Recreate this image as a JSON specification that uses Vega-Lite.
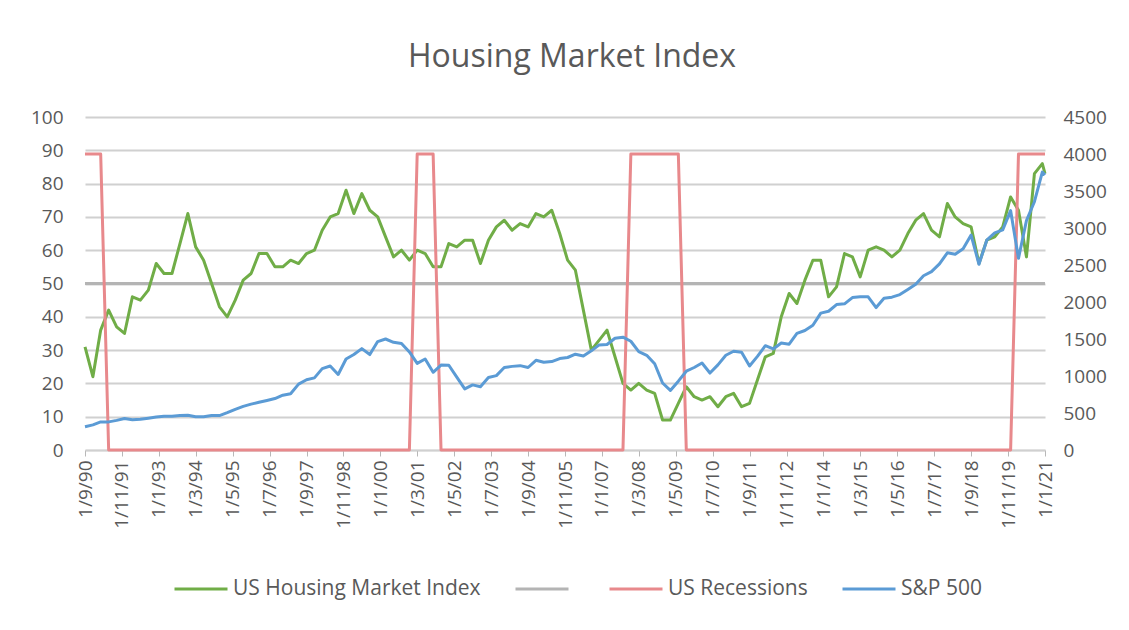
{
  "$schema": "https://vega.github.io/schema/vega-lite/v6.json",
  "width": 960,
  "height": 333,
  "autosize": {"type": "none"},
  "padding": {"left": 85, "top": 117, "right": 84, "bottom": 180},
  "background": "white",
  "config": {
    "view": {"stroke": null},
    "font": "Open Sans",
    "axis": {"labelOverlap": false, "labelFont": "Open Sans", "labelColor": "#595959", "labelFontSize": 19, "title": null},
    "axisLeft": {"grid": true, "gridColor": "#d0d0d0", "gridWidth": 1.8, "gridOpacity": 1}
  },
  "title": {"text": "Housing Market Index", "fontSize": 32, "font": "Open Sans", "fontWeight": "normal", "color": "#595959", "anchor": "middle", "frame": "group", "baseline": "alphabetic", "offset": 9, "dx": 7},
  "data": {"values": [
      {"date":"1990-09-01T00:00","hmi":31,"sp":315,"rec":4000},
      {"date":"1990-12-01T00:00","hmi":22,"sp":340,"rec":4000},
      {"date":"1991-03-01T00:00","hmi":36,"sp":380,"rec":4000},
      {"date":"1991-06-01T00:00","hmi":42,"sp":380,"rec":0},
      {"date":"1991-09-01T00:00","hmi":37,"sp":400,"rec":0},
      {"date":"1991-12-01T00:00","hmi":35,"sp":425,"rec":0},
      {"date":"1992-03-01T00:00","hmi":46,"sp":410,"rec":0},
      {"date":"1992-06-01T00:00","hmi":45,"sp":415,"rec":0},
      {"date":"1992-09-01T00:00","hmi":48,"sp":430,"rec":0},
      {"date":"1992-12-01T00:00","hmi":56,"sp":445,"rec":0},
      {"date":"1993-03-01T00:00","hmi":53,"sp":455,"rec":0},
      {"date":"1993-06-01T00:00","hmi":53,"sp":455,"rec":0},
      {"date":"1993-09-01T00:00","hmi":62,"sp":465,"rec":0},
      {"date":"1993-12-01T00:00","hmi":71,"sp":470,"rec":0},
      {"date":"1994-03-01T00:00","hmi":61,"sp":450,"rec":0},
      {"date":"1994-06-01T00:00","hmi":57,"sp":450,"rec":0},
      {"date":"1994-09-01T00:00","hmi":50,"sp":465,"rec":0},
      {"date":"1994-12-01T00:00","hmi":43,"sp":465,"rec":0},
      {"date":"1995-03-01T00:00","hmi":40,"sp":505,"rec":0},
      {"date":"1995-06-01T00:00","hmi":45,"sp":550,"rec":0},
      {"date":"1995-09-01T00:00","hmi":51,"sp":590,"rec":0},
      {"date":"1995-12-01T00:00","hmi":53,"sp":620,"rec":0},
      {"date":"1996-03-01T00:00","hmi":59,"sp":645,"rec":0},
      {"date":"1996-06-01T00:00","hmi":59,"sp":670,"rec":0},
      {"date":"1996-09-01T00:00","hmi":55,"sp":695,"rec":0},
      {"date":"1996-12-01T00:00","hmi":55,"sp":740,"rec":0},
      {"date":"1997-03-01T00:00","hmi":57,"sp":760,"rec":0},
      {"date":"1997-06-01T00:00","hmi":56,"sp":890,"rec":0},
      {"date":"1997-09-01T00:00","hmi":59,"sp":950,"rec":0},
      {"date":"1997-12-01T00:00","hmi":60,"sp":975,"rec":0},
      {"date":"1998-03-01T00:00","hmi":66,"sp":1100,"rec":0},
      {"date":"1998-06-01T00:00","hmi":70,"sp":1135,"rec":0},
      {"date":"1998-09-01T00:00","hmi":71,"sp":1020,"rec":0},
      {"date":"1998-12-01T00:00","hmi":78,"sp":1230,"rec":0},
      {"date":"1999-03-01T00:00","hmi":71,"sp":1290,"rec":0},
      {"date":"1999-06-01T00:00","hmi":77,"sp":1370,"rec":0},
      {"date":"1999-09-01T00:00","hmi":72,"sp":1290,"rec":0},
      {"date":"1999-12-01T00:00","hmi":70,"sp":1465,"rec":0},
      {"date":"2000-03-01T00:00","hmi":64,"sp":1500,"rec":0},
      {"date":"2000-06-01T00:00","hmi":58,"sp":1455,"rec":0},
      {"date":"2000-09-01T00:00","hmi":60,"sp":1440,"rec":0},
      {"date":"2000-12-01T00:00","hmi":57,"sp":1325,"rec":0},
      {"date":"2001-03-01T00:00","hmi":60,"sp":1170,"rec":4000},
      {"date":"2001-06-01T00:00","hmi":59,"sp":1230,"rec":4000},
      {"date":"2001-09-01T00:00","hmi":55,"sp":1050,"rec":4000},
      {"date":"2001-12-01T00:00","hmi":55,"sp":1148,"rec":0},
      {"date":"2002-03-01T00:00","hmi":62,"sp":1145,"rec":0},
      {"date":"2002-06-01T00:00","hmi":61,"sp":985,"rec":0},
      {"date":"2002-09-01T00:00","hmi":63,"sp":825,"rec":0},
      {"date":"2002-12-01T00:00","hmi":63,"sp":880,"rec":0},
      {"date":"2003-03-01T00:00","hmi":56,"sp":855,"rec":0},
      {"date":"2003-06-01T00:00","hmi":63,"sp":980,"rec":0},
      {"date":"2003-09-01T00:00","hmi":67,"sp":1005,"rec":0},
      {"date":"2003-12-01T00:00","hmi":69,"sp":1115,"rec":0},
      {"date":"2004-03-01T00:00","hmi":66,"sp":1130,"rec":0},
      {"date":"2004-06-01T00:00","hmi":68,"sp":1140,"rec":0},
      {"date":"2004-09-01T00:00","hmi":67,"sp":1115,"rec":0},
      {"date":"2004-12-01T00:00","hmi":71,"sp":1212,"rec":0},
      {"date":"2005-03-01T00:00","hmi":70,"sp":1185,"rec":0},
      {"date":"2005-06-01T00:00","hmi":72,"sp":1195,"rec":0},
      {"date":"2005-09-01T00:00","hmi":65,"sp":1235,"rec":0},
      {"date":"2005-12-01T00:00","hmi":57,"sp":1250,"rec":0},
      {"date":"2006-03-01T00:00","hmi":54,"sp":1295,"rec":0},
      {"date":"2006-06-01T00:00","hmi":42,"sp":1270,"rec":0},
      {"date":"2006-09-01T00:00","hmi":30,"sp":1340,"rec":0},
      {"date":"2006-12-01T00:00","hmi":33,"sp":1420,"rec":0},
      {"date":"2007-03-01T00:00","hmi":36,"sp":1425,"rec":0},
      {"date":"2007-06-01T00:00","hmi":28,"sp":1510,"rec":0},
      {"date":"2007-09-01T00:00","hmi":20,"sp":1525,"rec":0},
      {"date":"2007-12-01T00:00","hmi":18,"sp":1470,"rec":4000},
      {"date":"2008-03-01T00:00","hmi":20,"sp":1330,"rec":4000},
      {"date":"2008-06-01T00:00","hmi":18,"sp":1280,"rec":4000},
      {"date":"2008-09-01T00:00","hmi":17,"sp":1165,"rec":4000},
      {"date":"2008-12-01T00:00","hmi":9,"sp":905,"rec":4000},
      {"date":"2009-03-01T00:00","hmi":9,"sp":805,"rec":4000},
      {"date":"2009-06-01T00:00","hmi":14,"sp":930,"rec":4000},
      {"date":"2009-09-01T00:00","hmi":19,"sp":1065,"rec":0},
      {"date":"2009-12-01T00:00","hmi":16,"sp":1115,"rec":0},
      {"date":"2010-03-01T00:00","hmi":15,"sp":1175,"rec":0},
      {"date":"2010-06-01T00:00","hmi":16,"sp":1040,"rec":0},
      {"date":"2010-09-01T00:00","hmi":13,"sp":1150,"rec":0},
      {"date":"2010-12-01T00:00","hmi":16,"sp":1280,"rec":0},
      {"date":"2011-03-01T00:00","hmi":17,"sp":1335,"rec":0},
      {"date":"2011-06-01T00:00","hmi":13,"sp":1320,"rec":0},
      {"date":"2011-09-01T00:00","hmi":14,"sp":1135,"rec":0},
      {"date":"2011-12-01T00:00","hmi":21,"sp":1265,"rec":0},
      {"date":"2012-03-01T00:00","hmi":28,"sp":1410,"rec":0},
      {"date":"2012-06-01T00:00","hmi":29,"sp":1365,"rec":0},
      {"date":"2012-09-01T00:00","hmi":40,"sp":1445,"rec":0},
      {"date":"2012-12-01T00:00","hmi":47,"sp":1430,"rec":0},
      {"date":"2013-03-01T00:00","hmi":44,"sp":1575,"rec":0},
      {"date":"2013-06-01T00:00","hmi":51,"sp":1615,"rec":0},
      {"date":"2013-09-01T00:00","hmi":57,"sp":1685,"rec":0},
      {"date":"2013-12-01T00:00","hmi":57,"sp":1850,"rec":0},
      {"date":"2014-03-01T00:00","hmi":46,"sp":1875,"rec":0},
      {"date":"2014-06-01T00:00","hmi":49,"sp":1965,"rec":0},
      {"date":"2014-09-01T00:00","hmi":59,"sp":1975,"rec":0},
      {"date":"2014-12-01T00:00","hmi":58,"sp":2060,"rec":0},
      {"date":"2015-03-01T00:00","hmi":52,"sp":2070,"rec":0},
      {"date":"2015-06-01T00:00","hmi":60,"sp":2070,"rec":0},
      {"date":"2015-09-01T00:00","hmi":61,"sp":1925,"rec":0},
      {"date":"2015-12-01T00:00","hmi":60,"sp":2050,"rec":0},
      {"date":"2016-03-01T00:00","hmi":58,"sp":2065,"rec":0},
      {"date":"2016-06-01T00:00","hmi":60,"sp":2100,"rec":0},
      {"date":"2016-09-01T00:00","hmi":65,"sp":2170,"rec":0},
      {"date":"2016-12-01T00:00","hmi":69,"sp":2240,"rec":0},
      {"date":"2017-03-01T00:00","hmi":71,"sp":2355,"rec":0},
      {"date":"2017-06-01T00:00","hmi":66,"sp":2410,"rec":0},
      {"date":"2017-09-01T00:00","hmi":64,"sp":2515,"rec":0},
      {"date":"2017-12-01T00:00","hmi":74,"sp":2665,"rec":0},
      {"date":"2018-03-01T00:00","hmi":70,"sp":2645,"rec":0},
      {"date":"2018-06-01T00:00","hmi":68,"sp":2720,"rec":0},
      {"date":"2018-09-01T00:00","hmi":67,"sp":2905,"rec":0},
      {"date":"2018-12-01T00:00","hmi":56,"sp":2510,"rec":0},
      {"date":"2019-03-01T00:00","hmi":63,"sp":2835,"rec":0},
      {"date":"2019-06-01T00:00","hmi":64,"sp":2935,"rec":0},
      {"date":"2019-09-01T00:00","hmi":67,"sp":2975,"rec":0},
      {"date":"2019-12-01T00:00","hmi":76,"sp":3235,"rec":0},
      {"date":"2020-03-01T00:00","hmi":72,"sp":2590,"rec":4000},
      {"date":"2020-06-01T00:00","hmi":58,"sp":3100,"rec":4000},
      {"date":"2020-09-01T00:00","hmi":83,"sp":3355,"rec":4000},
      {"date":"2020-12-01T00:00","hmi":86,"sp":3755,"rec":4000},
      {"date":"2021-01-01T00:00","hmi":83,"sp":3715,"rec":4000}
  ]},
  "encoding": {
    "x": {"field": "date", "type": "temporal",
      "scale": {"domain": [{"year": 1990, "month": 9, "date": 1}, {"year": 2021, "month": 1, "date": 1}]},
      "axis": {"title": null, "format": "%-d/%-m/%y", "labelAngle": -90, "labelAlign": "right", "labelBaseline": "middle", "labelFontSize": 19, "labelFont": "Open Sans", "labelColor": "#595959", "labelPadding": 4, "tickSize": 6, "tickColor": "#b8b8b8", "domainColor": "#d0d0d0", "domainWidth": 1.6, "grid": false, "labelOverlap": false, "labelFlush": false,
        "values": [
          {"year":1990,"month":9,"date":1},{"year":1991,"month":11,"date":1},{"year":1993,"month":1,"date":1},
          {"year":1994,"month":3,"date":1},{"year":1995,"month":5,"date":1},{"year":1996,"month":7,"date":1},
          {"year":1997,"month":9,"date":1},{"year":1998,"month":11,"date":1},{"year":2000,"month":1,"date":1},
          {"year":2001,"month":3,"date":1},{"year":2002,"month":5,"date":1},{"year":2003,"month":7,"date":1},
          {"year":2004,"month":9,"date":1},{"year":2005,"month":11,"date":1},{"year":2007,"month":1,"date":1},
          {"year":2008,"month":3,"date":1},{"year":2009,"month":5,"date":1},{"year":2010,"month":7,"date":1},
          {"year":2011,"month":9,"date":1},{"year":2012,"month":11,"date":1},{"year":2014,"month":1,"date":1},
          {"year":2015,"month":3,"date":1},{"year":2016,"month":5,"date":1},{"year":2017,"month":7,"date":1},
          {"year":2018,"month":9,"date":1},{"year":2019,"month":11,"date":1},{"year":2021,"month":1,"date":1}
        ]}}
  },
  "layer": [
    {
      "mark": {"type": "line", "strokeWidth": 3},
      "encoding": {
        "y": {"datum": 50, "type": "quantitative", "scale": {"domain": [0, 100]},
          "axis": {"title": null, "orient": "left", "values": [0,10,20,30,40,50,60,70,80,90,100], "domain": false, "ticks": false, "labelPadding": 22, "labelOverlap": false, "grid": true, "gridColor": "#d0d0d0", "gridWidth": 1.8, "gridOpacity": 1}},
        "color": {"datum": "ref", "type": "nominal",
          "scale": {"domain": ["hmi", "ref", "rec", "sp"], "range": ["#70ad47", "#b4b4b4", "#e8898c", "#5b9bd5"]},
          "legend": {"orient": "none", "legendX": 88, "legendY": 444, "direction": "horizontal", "title": null,
            "labelExpr": "datum.value == 'hmi' ? 'US Housing Market Index' : datum.value == 'rec' ? 'US Recessions' : datum.value == 'sp' ? 'S&P 500' : ''",
            "symbolType": "stroke", "symbolSize": 2809, "symbolStrokeWidth": 3, "labelFontSize": 21, "labelFont": "Open Sans", "labelColor": "#595959", "labelOffset": 4, "columnPadding": 28, "padding": 0, "labelLimit": 400}}
      }
    },
    {
      "mark": {"type": "line", "strokeWidth": 3, "strokeJoin": "round"},
      "encoding": {
        "y": {"field": "hmi", "type": "quantitative", "scale": {"domain": [0, 100]}, "axis": null},
        "color": {"datum": "hmi", "type": "nominal"}
      }
    },
    {
      "mark": {"type": "line", "strokeWidth": 3, "strokeJoin": "round"},
      "encoding": {
        "y": {"field": "rec", "type": "quantitative", "scale": {"domain": [0, 4500]},
          "axis": {"title": null, "orient": "right", "values": [0,500,1000,1500,2000,2500,3000,3500,4000,4500], "format": "d", "domain": false, "ticks": false, "grid": false, "labelPadding": 18, "labelOverlap": false}},
        "color": {"datum": "rec", "type": "nominal"}
      }
    },
    {
      "mark": {"type": "line", "strokeWidth": 3, "strokeJoin": "round"},
      "encoding": {
        "y": {"field": "sp", "type": "quantitative", "scale": {"domain": [0, 4500]}, "axis": null},
        "color": {"datum": "sp", "type": "nominal"}
      }
    }
  ],
  "resolve": {"scale": {"y": "independent"}}
}
